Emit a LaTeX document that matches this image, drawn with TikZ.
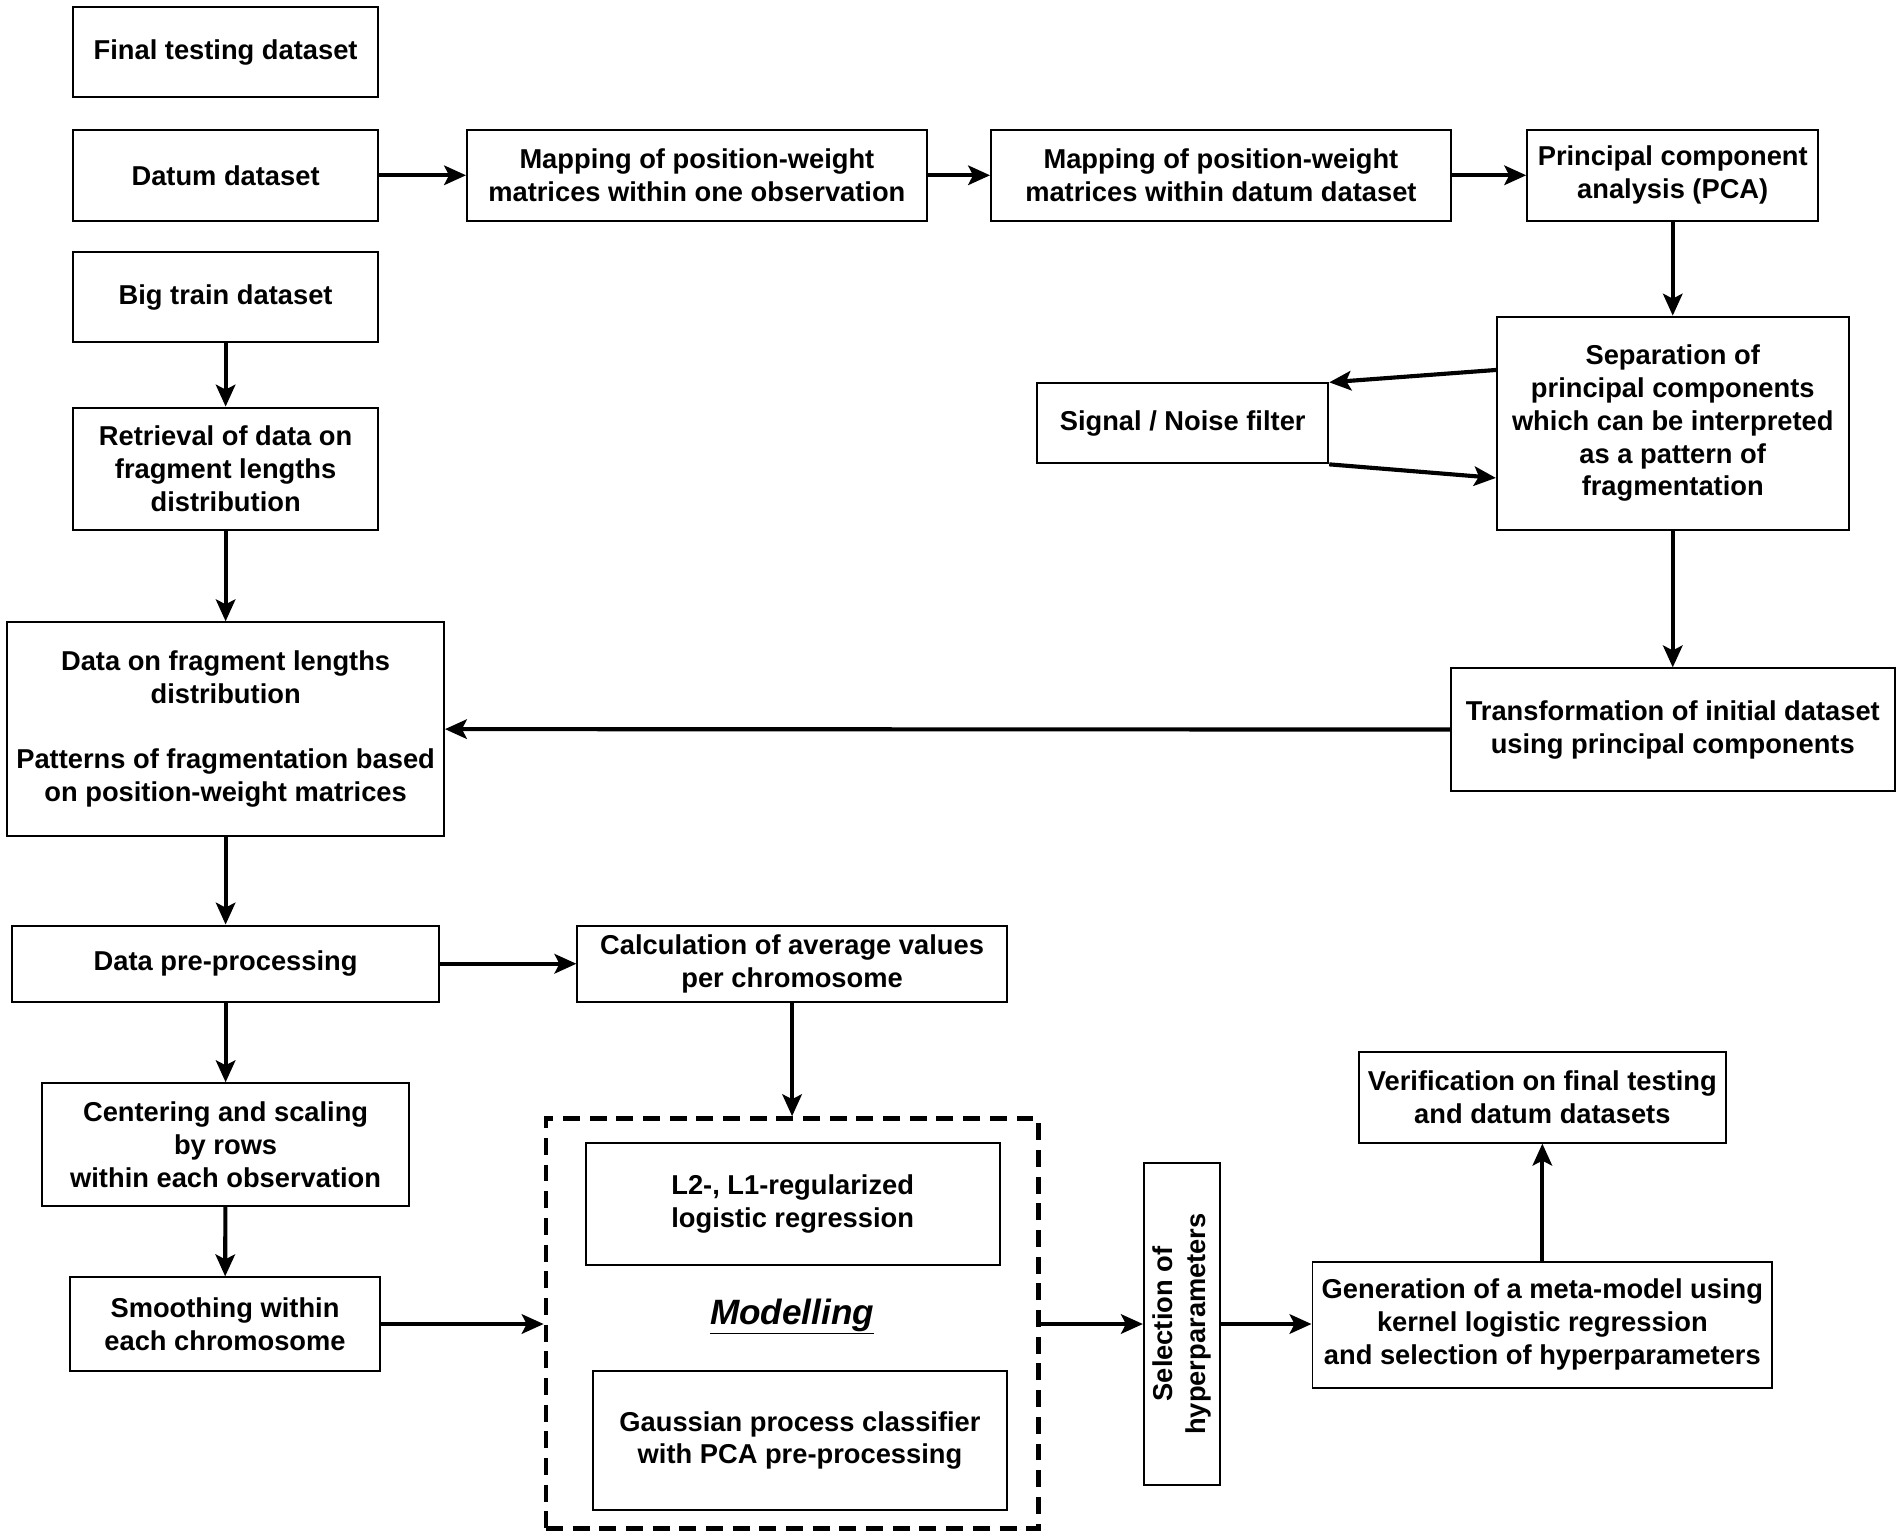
\documentclass[tikz,border=0pt]{standalone}
\usepackage{fontspec}
\setmainfont{Liberation Sans}
\usetikzlibrary{arrows.meta,calc}
\tikzset{
  box/.style={draw, line width=1.6pt, inner sep=0pt, align=center,
    font=\fontsize{22.5}{27}\selectfont\bfseries},
  arr/.style={line width=3.4pt, -{Stealth[length=18pt,width=16pt,inset=4pt]}},
  dashbox/.style={draw, line width=3.6pt, dash pattern=on 14pt off 8pt, inner sep=0pt},
  modtxt/.style={font=\fontsize{29}{32}\selectfont\bfseries\itshape}
}
\begin{document}
\begin{tikzpicture}[x=1pt,y=-1pt]
\useasboundingbox (0,0) rectangle (1568,1267);
% boxes
\node[box, minimum width=252, minimum height=74] (fin) at (186,43) {Final testing dataset};
\node[box, minimum width=252, minimum height=75] (datum) at (186,144.5) {Datum dataset};
\node[box, minimum width=379, minimum height=75] (map1) at (574.5,144.5) {Mapping of position-weight\\matrices within one observation};
\node[box, minimum width=379, minimum height=75] (map2) at (1006.5,144.5) {Mapping of position-weight\\matrices within datum dataset};
\node[box, minimum width=240, minimum height=75] (pca) at (1379,144.5) {Principal component\\analysis (PCA)};
\node[box, minimum width=252, minimum height=74] (big) at (186,245) {Big train dataset};
\node[box, minimum width=252, minimum height=101] (retr) at (186,386.5) {Retrieval of data on\\fragment lengths\\distribution};
\node[box, minimum width=290, minimum height=176] (sep) at (1379,349) {Separation of\\principal components\\which can be interpreted\\as a pattern of\\fragmentation};
\node[box, minimum width=240, minimum height=66] (sig) at (975,349) {Signal / Noise filter};
\node[box, minimum width=366, minimum height=101] (trans) at (1379,601.5) {Transformation of initial dataset\\using principal components};
\node[box, minimum width=360, minimum height=176] (dfrag) at (186,601) {Data on fragment lengths\\distribution\\[27pt]Patterns of fragmentation based\\on position-weight matrices};
\node[box, minimum width=352, minimum height=63] (prep) at (186,794.5) {Data pre-processing};
\node[box, minimum width=354, minimum height=63] (calc) at (653,794.5) {Calculation of average values\\per chromosome};
\node[box, minimum width=302, minimum height=101] (cent) at (186,943.5) {Centering and scaling\\by rows\\within each observation};
\node[box, minimum width=255, minimum height=77] (smooth) at (185.5,1091.5) {Smoothing within\\each chromosome};
\node[dashbox, minimum width=406, minimum height=338] (model) at (653,1091) {};
\node[box, minimum width=341, minimum height=101] (l2) at (653.5,992.5) {L2-, L1-regularized\\logistic regression};
\node[box, minimum width=341, minimum height=115] (gauss) at (659.5,1187.5) {Gaussian process classifier\\with PCA pre-processing};
\node[modtxt] (mtext) at (653,1085) {\underline{Modelling}};
\node[box, minimum width=63, minimum height=265] (sel) at (974.5,1091.5) {\rotatebox{90}{\begin{tabular}{@{}c@{}}Selection of\\hyperparameters\end{tabular}}};
\node[box, minimum width=379, minimum height=104] (gen) at (1271.5,1092) {Generation of a meta-model using\\kernel logistic regression\\and selection of hyperparameters};
\node[box, minimum width=303, minimum height=75] (verif) at (1271.5,904.5) {Verification on final testing\\and datum datasets};
% arrows
\draw[arr] (datum) -- (map1);
\draw[arr] (map1) -- (map2);
\draw[arr] (map2) -- (pca);
\draw[arr] (pca) -- (sep);
\draw[arr] ([yshift=44pt]sep.west) -- (sig.north east);
\draw[arr] (sig.south east) -- ([yshift=-45pt]sep.west);
\draw[arr] (sep) -- (trans);
\draw[arr] (trans) -- (dfrag);
\draw[arr] (big) -- (retr);
\draw[arr] (retr) -- (dfrag);
\draw[arr] (dfrag) -- (prep);
\draw[arr] (prep) -- (calc);
\draw[arr] (prep) -- (cent);
\draw[arr] (cent) -- (smooth);
\draw[arr] (calc) -- (model);
\draw[arr] (smooth.east) -- (smooth.east -| model.west);
\draw[arr] (model.east |- sel.west) -- (sel.west);
\draw[arr] (sel.east) -- (sel.east -| gen.west);
\draw[arr] (gen) -- (verif);
\end{tikzpicture}
\end{document}
